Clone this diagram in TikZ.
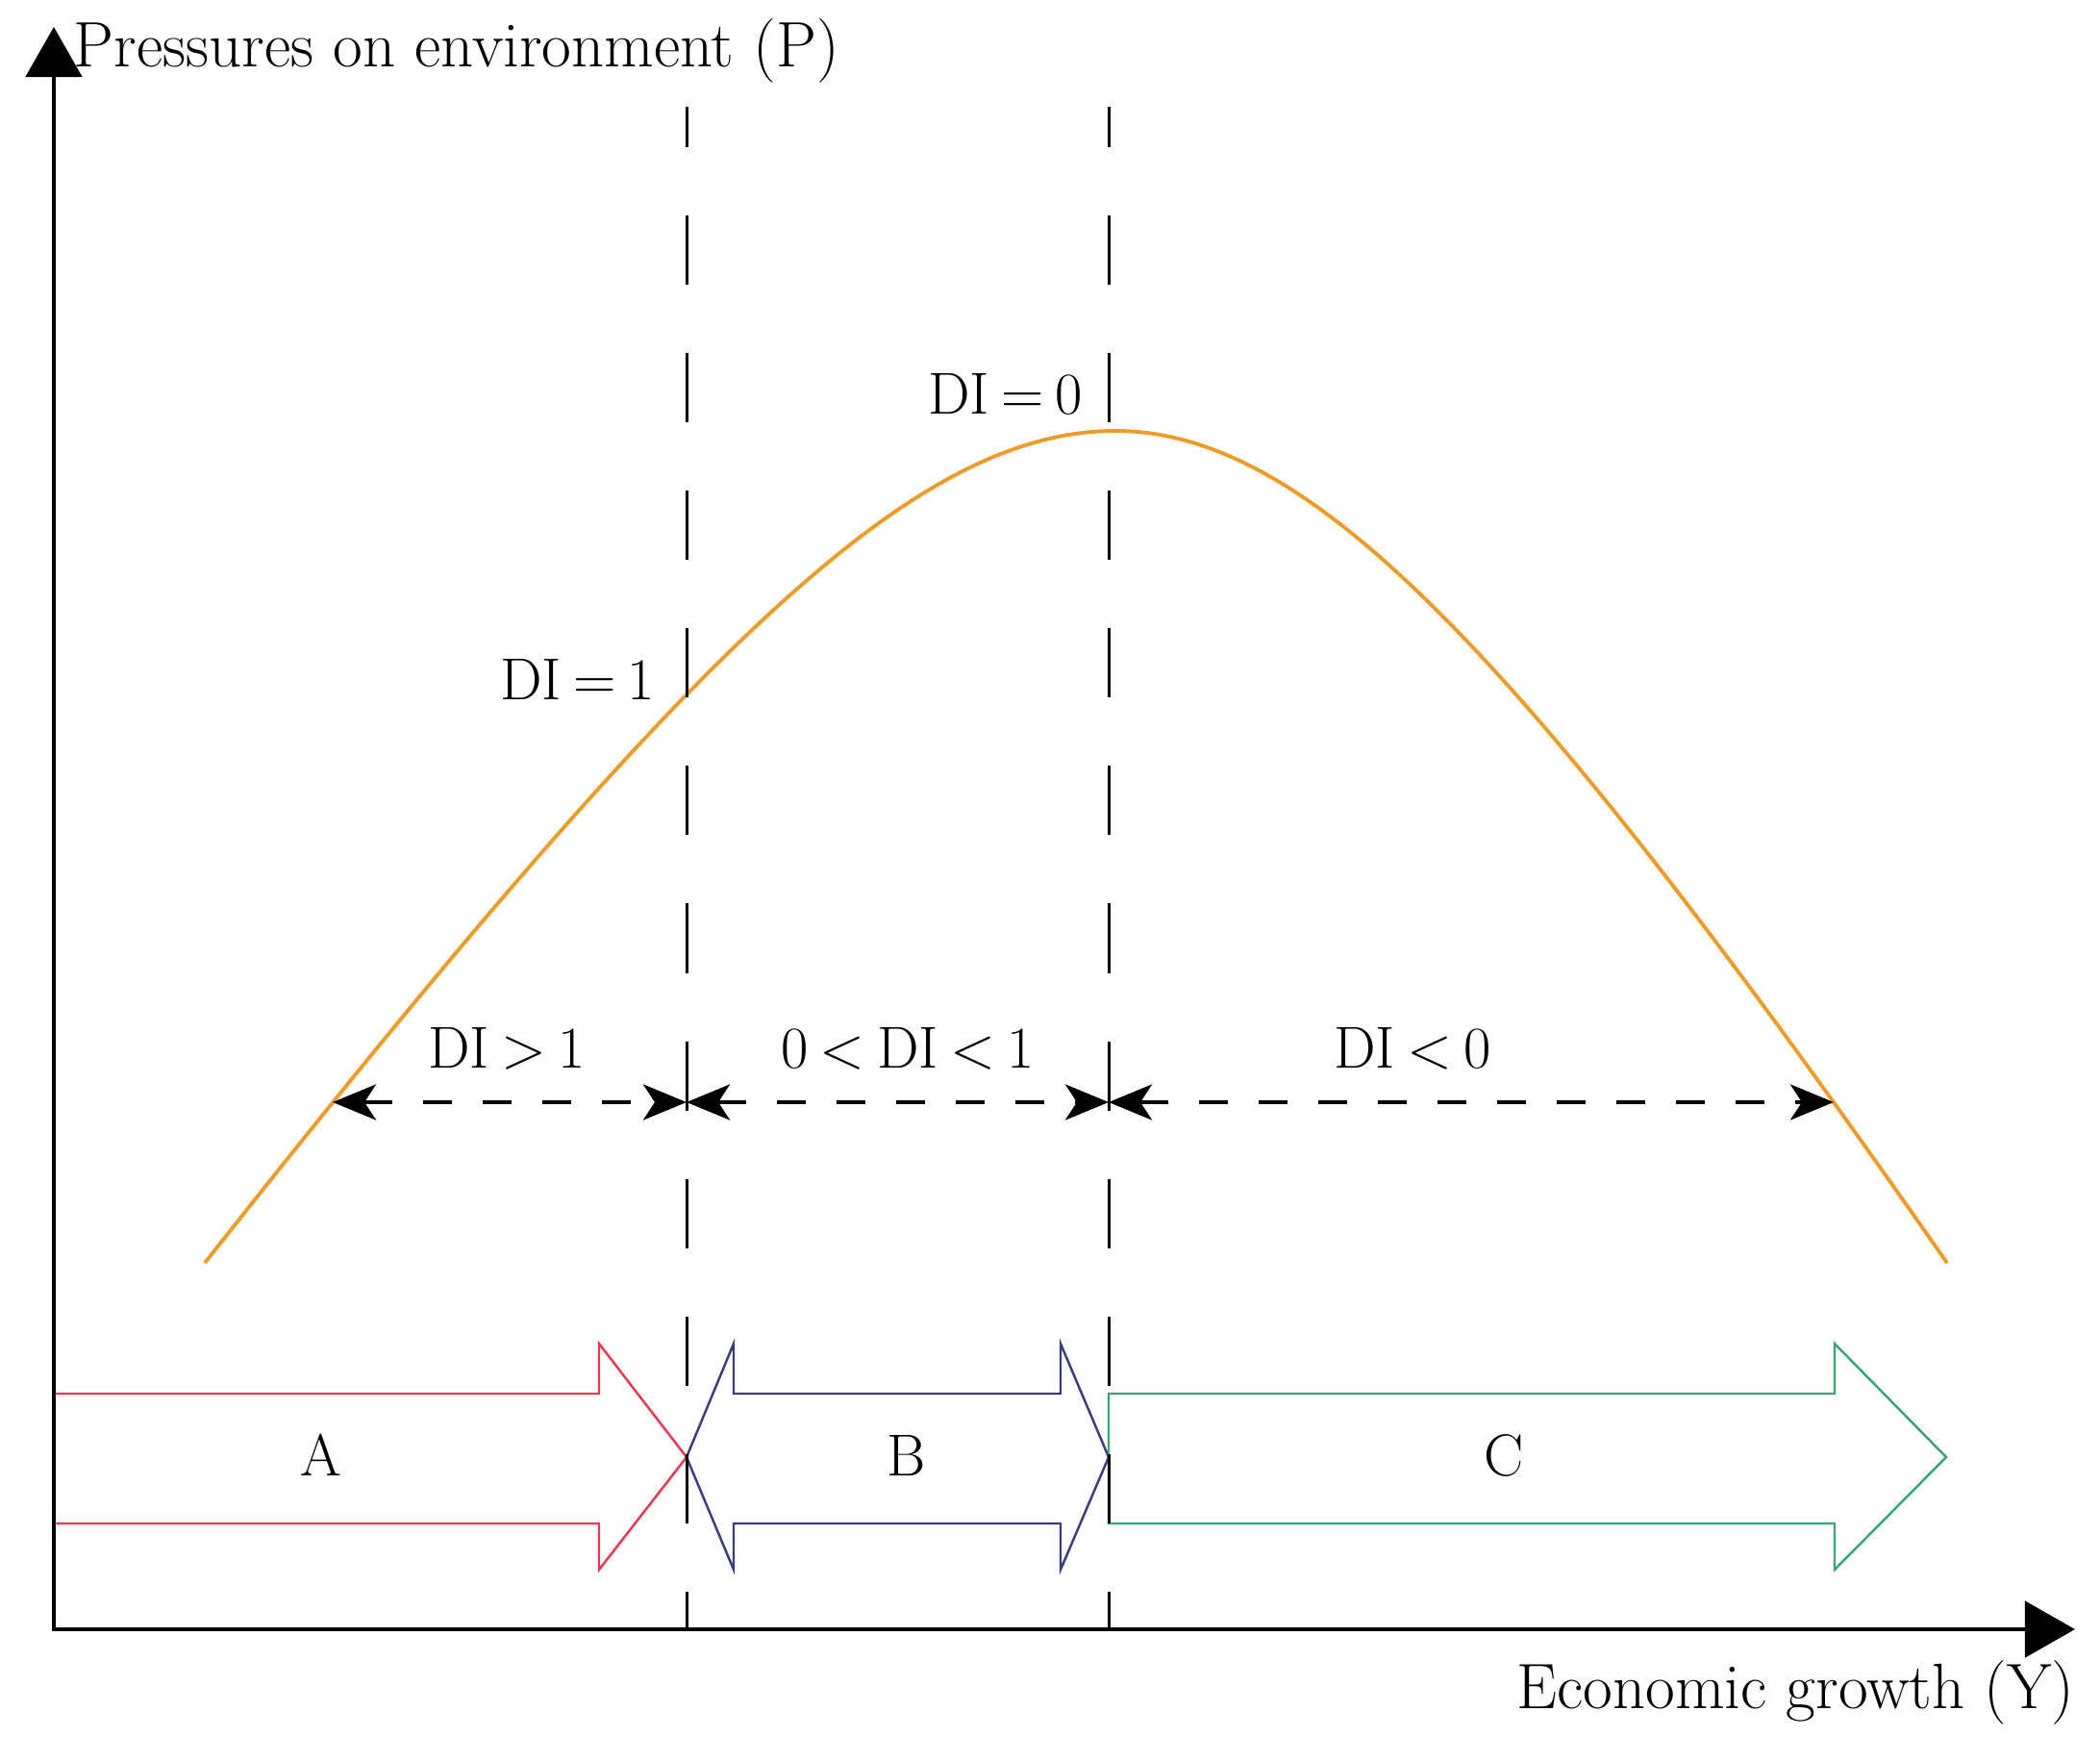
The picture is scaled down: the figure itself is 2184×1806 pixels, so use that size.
\documentclass[tikz,border=0pt]{standalone}
\usetikzlibrary{arrows.meta}
\definecolor{curveor}{RGB}{240,155,40}
\definecolor{ared}{RGB}{234,56,78}
\definecolor{bnavy}{RGB}{60,60,128}
\definecolor{cgreen}{RGB}{56,165,118}
\begin{document}
\begin{tikzpicture}[x=0.01cm,y=-0.01cm,
  lbl/.style={font=\fontsize{19}{23}\selectfont, inner sep=0pt},
  dilbl/.style={font={\fontsize{17.5}{21}\selectfont\spaceskip=0.2em\relax}, inner sep=0pt},
  axisline/.style={line width=1.4pt, {Triangle[length=0.52cm,width=0.58cm]}-{Triangle[length=0.52cm,width=0.58cm]}},
  vdash/.style={line width=0.85pt, dash pattern=on 0.72cm off 0.71cm, dash phase=0.30cm},
  hdash/.style={line width=1.2pt, dash pattern=on 0.30cm off 0.32cm, {Stealth[length=0.45cm,width=0.37cm,inset=0.12cm]}-{Stealth[length=0.45cm,width=0.37cm,inset=0.12cm]}},
  bigarrow/.style={line width=0.7pt, line join=miter},
  curve/.style={curveor, line width=1.1pt}]
\fill[white] (0,0) rectangle (2184,1806);
\useasboundingbox (0,0) rectangle (2184,1806);

% coordinates
\coordinate (O) at (56,1694);
\coordinate (Ytip) at (56,28);
\coordinate (Xtip) at (2158,1694);
\coordinate (v1t) at (714,111);
\coordinate (v1b) at (714,1694);
\coordinate (v2t) at (1153,111);
\coordinate (v2b) at (1153,1694);
\coordinate (cL) at (346,1146);
\coordinate (v1m) at (714,1146);
\coordinate (v2m) at (1153,1146);
\coordinate (cR) at (1907,1146);

% big arrows
\draw[bigarrow, ared] (56,1449) -- (623,1449) -- (623,1397) -- (714,1515) -- (623,1632) -- (623,1584) -- (56,1584);
\draw[bigarrow, bnavy] (763,1449) -- (1103,1449) -- (1103,1397) -- (1153,1515) -- (1103,1632) -- (1103,1584) -- (763,1584) -- (763,1632) -- (714,1515) -- (763,1397) -- cycle;
\draw[bigarrow, cgreen] (1153,1449) -- (1908,1449) -- (1908,1397) -- (2024,1515) -- (1908,1632) -- (1908,1584) -- (1153,1584) -- cycle;
\node[dilbl, anchor=base] (A) at (334,1534) {A};
\node[dilbl, anchor=base] (B) at (943,1534) {B};
\node[dilbl, anchor=base] (C) at (1564,1534) {C};

% curve
\draw[curve] plot[domain=213:1160, samples=120, smooth] ({\x},{448+551*(sqrt(1+((\x-1160)/400)^2)-1)})
  -- plot[domain=1160:2025, samples=120, smooth] ({\x},{448+671*(sqrt(1+((\x-1160)/420)^2)-1)});

% dashed verticals
\draw[vdash] (v1t) -- (v1b);
\draw[vdash] (v2t) -- (v2b);

% horizontal dashed arrows
\draw[hdash] (cL) -- (v1m);
\draw[hdash] (v1m) -- (v2m);
\draw[hdash] (v2m) -- (cR);

% axes
\draw[axisline] (Ytip) -- (O) -- (Xtip);

% labels
\node[lbl, anchor=base west] (ylab) at (76,70) {Pressures on environment (P)};
\node[lbl, anchor=base east] (xlab) at (2158,1776) {Economic growth (Y)};
\node[dilbl, anchor=base east] (di1) at (682,727) {DI = 1};
\node[dilbl, anchor=base east] (di0) at (1127,430) {DI = 0};
\node[dilbl, anchor=base] (gt1) at (527,1110) {DI > 1};
\node[dilbl, anchor=base] (mid) at (944,1110) {0 < DI < 1};
\node[dilbl, anchor=base] (lt0) at (1469,1110) {DI < 0};
\end{tikzpicture}
\end{document}
